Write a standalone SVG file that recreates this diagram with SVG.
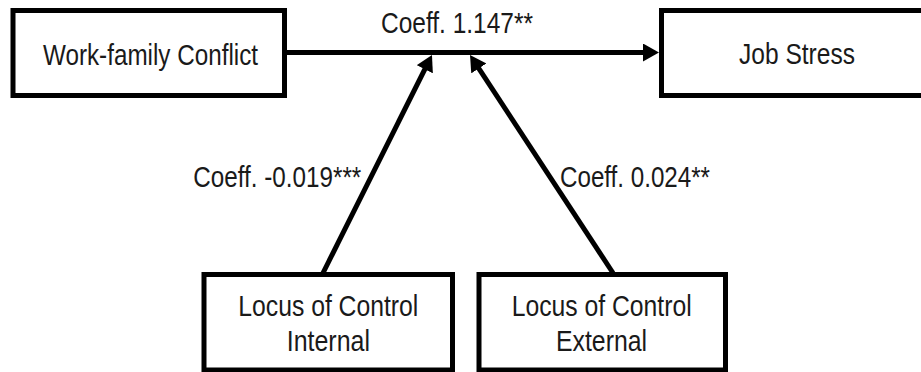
<svg xmlns="http://www.w3.org/2000/svg" width="921" height="372" viewBox="0 0 921 372">
<style>
.box{fill:#fff;stroke:#000;stroke-width:5}
.t{font-family:"Liberation Sans",Arial,sans-serif;font-size:30px;fill:#1a1a1a}
.c{fill:none;stroke:#000;stroke-width:5}
</style>
<defs>
<marker id="ah" viewBox="0 0 16 18" refX="6" refY="9" markerWidth="16" markerHeight="18" markerUnits="userSpaceOnUse" orient="auto">
<path d="M0,0 L16,9 L0,18 z" fill="#000"/>
</marker>
</defs>
<rect width="921" height="372" fill="#fff"/>
<g id="connectors">
<line class="c" x1="287" y1="52.5" x2="649" y2="52.5" marker-end="url(#ah)"/>
<line class="c" x1="323" y1="273" x2="427.5" y2="63.9" marker-end="url(#ah)"/>
<line class="c" x1="613" y1="273" x2="475.5" y2="63.4" marker-end="url(#ah)"/>
<text class="t" x="381" y="33" textLength="152" lengthAdjust="spacingAndGlyphs">Coeff. 1.147**</text>
<text class="t" x="193.3" y="187" textLength="168" lengthAdjust="spacingAndGlyphs">Coeff. -0.019***</text>
<text class="t" x="560" y="187" textLength="150" lengthAdjust="spacingAndGlyphs">Coeff. 0.024**</text>
</g>
<g id="work-family-conflict">
<rect class="box" x="13" y="10.5" width="271.5" height="85"/>
<text class="t" x="43" y="65" textLength="215" lengthAdjust="spacingAndGlyphs">Work-family Conflict</text>
</g>
<g id="job-stress">
<rect class="box" x="661.5" y="10.5" width="272" height="85"/>
<text class="t" x="739" y="64" textLength="116" lengthAdjust="spacingAndGlyphs">Job Stress</text>
</g>
<g id="locus-internal">
<rect class="box" x="204" y="274.5" width="248.5" height="95.5"/>
<text class="t" x="238.3" y="315.5" textLength="180" lengthAdjust="spacingAndGlyphs">Locus of Control</text>
<text class="t" x="286.7" y="350.5" textLength="83.3" lengthAdjust="spacingAndGlyphs">Internal</text>
</g>
<g id="locus-external">
<rect class="box" x="479" y="274.5" width="246.5" height="95.5"/>
<text class="t" x="511.7" y="315.5" textLength="180" lengthAdjust="spacingAndGlyphs">Locus of Control</text>
<text class="t" x="556" y="351" textLength="91" lengthAdjust="spacingAndGlyphs">External</text>
</g>
</svg>
